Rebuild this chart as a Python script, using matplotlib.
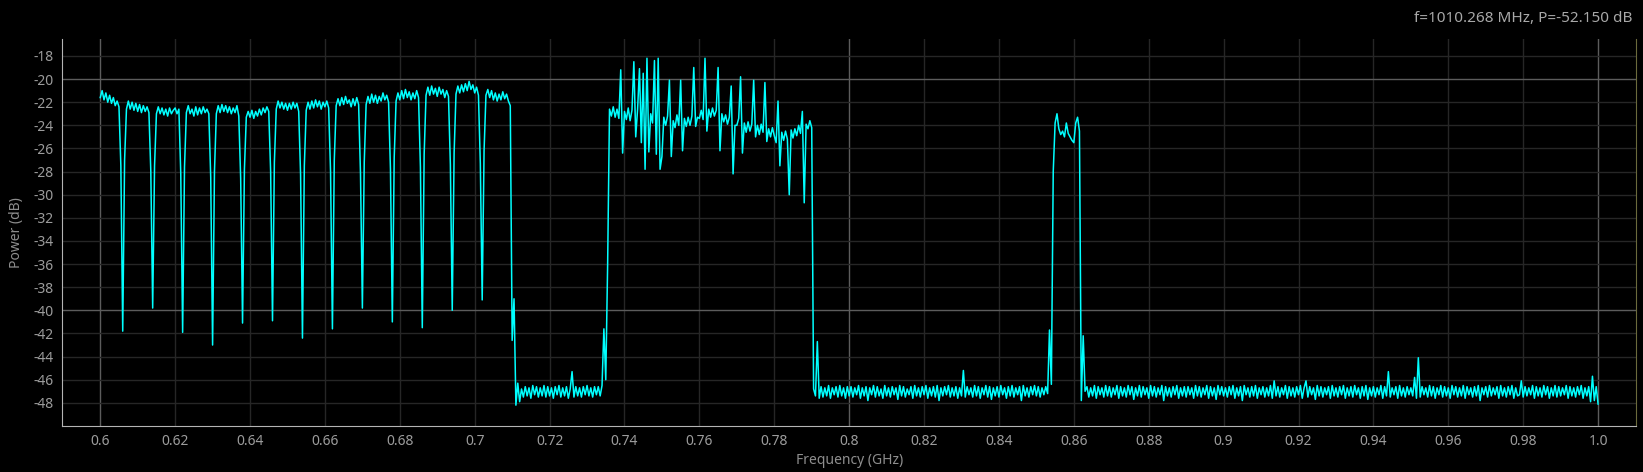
import numpy as np
import matplotlib
matplotlib.use('Agg')
import matplotlib.pyplot as plt

# spectrum trace, sampled every 0.5 MHz starting at 0.600 GHz (one row = 10 MHz)
freq_start_ghz = 0.600
freq_step_ghz = 0.0005
power_db = [
    -21.6, -21.0, -21.8, -21.2, -22.0, -21.4, -22.1, -21.6, -22.3, -21.9, -22.4, -27.5, -41.8, -27.0, -22.6, -21.9, -22.6, -22.0, -22.7, -22.1,
    -22.8, -22.2, -22.9, -22.3, -22.8, -22.4, -22.9, -28.0, -39.8, -27.5, -23.0, -22.4, -23.0, -22.5, -23.1, -22.6, -23.2, -22.5, -23.0, -22.7,
    -22.5, -23.0, -22.6, -28.2, -41.9, -27.6, -22.9, -22.3, -23.0, -22.6, -23.2, -22.4, -23.1, -22.5, -23.0, -22.4, -22.9, -22.6, -23.0, -28.5,
    -43.0, -28.0, -23.0, -22.3, -22.9, -22.2, -22.8, -22.3, -22.9, -22.4, -23.0, -22.5, -22.9, -22.3, -23.2, -28.6, -41.1, -27.8, -23.3, -22.8,
    -23.3, -22.7, -23.4, -22.8, -23.2, -22.6, -23.1, -22.5, -22.9, -22.4, -22.8, -28.0, -40.9, -27.2, -22.6, -21.9, -22.5, -22.0, -22.6, -22.1,
    -22.7, -22.1, -22.6, -22.0, -22.5, -22.1, -22.8, -28.3, -42.4, -27.5, -22.7, -22.0, -22.6, -21.9, -22.5, -21.8, -22.4, -21.9, -22.6, -22.0,
    -22.4, -21.9, -22.5, -28.0, -41.6, -27.0, -22.3, -21.7, -22.3, -21.6, -22.2, -21.5, -22.1, -21.8, -22.4, -21.7, -22.3, -21.6, -22.2, -28.2,
    -39.8, -27.2, -22.2, -21.5, -22.1, -21.3, -22.0, -21.4, -22.1, -21.5, -21.9, -21.2, -21.8, -21.4, -22.0, -27.8, -41.0, -26.8, -21.9, -21.2,
    -21.8, -21.0, -21.7, -20.9, -21.6, -21.1, -21.8, -21.2, -21.7, -21.0, -21.6, -27.6, -41.5, -26.5, -21.4, -20.7, -21.4, -20.6, -21.3, -20.8,
    -21.5, -20.7, -21.3, -20.9, -21.6, -21.0, -21.5, -27.4, -40.0, -26.4, -21.3, -20.6, -21.2, -20.5, -21.1, -20.4, -21.0, -20.2, -20.9, -20.5,
    -21.2, -20.7, -21.4, -27.3, -39.1, -26.2, -21.4, -20.9, -21.6, -21.0, -21.8, -21.2, -21.9, -21.3, -21.8, -21.1, -21.7, -21.3, -21.9, -22.3,
    -42.6, -39.0, -48.2, -46.3, -47.9, -46.8, -47.5, -46.6, -47.4, -46.7, -47.6, -46.5, -47.3, -46.6, -47.5, -46.7, -47.4, -46.5, -47.5, -46.6,
    -47.4, -46.7, -47.6, -46.6, -47.3, -46.5, -47.5, -46.7, -47.4, -46.6, -47.6, -46.8, -45.3, -47.5, -46.6, -47.4, -46.7, -47.5, -46.6, -47.3,
    -46.5, -47.4, -46.7, -47.5, -46.6, -47.3, -46.6, -47.4, -46.5, -41.6, -46.0, -36.0, -22.6, -23.2, -22.4, -23.3, -22.6, -23.4, -19.2, -26.4,
    -22.8, -23.5, -22.5, -23.6, -22.7, -18.5, -25.0, -22.6, -19.1, -25.5, -19.5, -27.8, -18.2, -26.3, -23.0, -23.8, -18.4, -26.5, -18.2, -27.8,
    -26.7, -23.3, -24.0, -23.2, -20.1, -26.7, -23.6, -24.2, -23.1, -24.0, -20.1, -26.2, -23.4, -24.1, -23.3, -24.0, -23.2, -19.0, -24.1, -23.3,
    -23.4, -22.7, -23.5, -18.2, -24.5, -22.6, -23.3, -22.5, -23.2, -22.7, -19.0, -26.2, -23.0, -23.7, -23.1, -23.9, -23.3, -20.6, -28.2, -24.0,
    -24.0, -23.4, -19.8, -26.4, -23.8, -24.6, -23.7, -24.5, -23.9, -20.1, -25.0, -24.0, -24.8, -23.9, -24.6, -20.3, -25.4, -24.3, -25.0, -24.2,
    -24.9, -25.5, -21.9, -27.5, -24.6, -25.3, -24.5, -25.2, -30.0, -24.4, -25.1, -24.3, -24.9, -24.0, -24.7, -22.8, -30.7, -23.9, -24.3, -23.6,
    -24.2, -46.8, -47.4, -42.7, -47.6, -46.6, -47.5, -46.7, -47.4, -46.5, -47.6, -46.7, -47.3, -46.6, -47.5, -46.5, -47.4, -46.7, -47.6, -46.6,
    -47.4, -46.6, -47.5, -46.7, -47.3, -46.5, -47.6, -46.7, -47.4, -46.6, -47.8, -46.7, -47.3, -46.5, -47.5, -46.6, -47.4, -46.8, -47.6, -46.5,
    -47.4, -46.7, -47.5, -46.6, -47.3, -46.7, -47.7, -46.5, -47.4, -46.6, -47.5, -46.8, -47.3, -46.6, -47.6, -46.5, -47.4, -46.7, -47.5, -46.6,
    -47.3, -46.5, -47.6, -46.7, -47.4, -46.6, -47.5, -46.5, -47.8, -46.7, -47.4, -46.6, -47.3, -46.5, -47.5, -46.7, -47.4, -46.6, -47.6, -46.7,
    -47.4, -45.2, -47.5, -46.6, -47.3, -46.7, -47.5, -46.5, -47.4, -46.6, -47.6, -46.7, -47.3, -46.5, -47.5, -46.6, -47.7, -46.7, -47.4, -46.6,
    -47.5, -46.5, -47.3, -46.7, -47.6, -46.6, -47.4, -46.5, -47.5, -46.7, -47.3, -46.6, -47.8, -46.5, -47.4, -46.7, -47.5, -46.6, -47.3, -46.5,
    -47.4, -46.6, -47.5, -46.7, -47.3, -46.6, -47.2, -41.7, -46.4, -28.0, -23.8, -23.0, -24.3, -24.8, -24.5, -25.0, -23.8, -24.7, -25.0, -25.3,
    -25.5, -23.8, -23.3, -24.5, -47.8, -42.2, -47.0, -46.6, -47.5, -46.7, -47.4, -46.5, -47.6, -46.6, -47.3, -46.7, -47.5, -46.5, -47.4, -46.6,
    -47.5, -46.7, -47.3, -46.5, -47.6, -46.6, -47.4, -46.7, -47.5, -46.5, -47.3, -46.6, -47.7, -46.7, -47.4, -46.5, -47.5, -46.6, -47.3, -46.7,
    -47.6, -46.5, -47.4, -46.6, -47.5, -46.7, -47.3, -46.5, -47.8, -46.6, -47.4, -46.7, -47.5, -46.6, -47.3, -46.5, -47.6, -46.7, -47.4, -46.6,
    -47.5, -46.6, -47.3, -46.7, -47.6, -46.5, -47.4, -46.6, -47.5, -46.7, -47.3, -46.5, -47.6, -46.6, -47.4, -46.7, -47.7, -46.5, -47.3, -46.6,
    -47.4, -46.7, -47.5, -46.6, -47.3, -46.5, -47.6, -46.7, -47.4, -46.6, -47.8, -46.5, -47.3, -46.7, -47.5, -46.6, -47.4, -46.5, -47.6, -46.7,
    -47.3, -46.6, -47.5, -46.7, -47.4, -46.5, -47.6, -46.1, -47.4, -46.6, -47.5, -46.7, -47.3, -46.5, -47.6, -46.6, -47.4, -46.7, -47.5, -46.6,
    -47.3, -46.5, -47.6, -46.7, -46.1, -47.5, -46.6, -47.3, -46.7, -47.7, -46.5, -47.4, -46.6, -47.5, -46.7, -47.3, -46.6, -47.6, -46.5, -47.4,
    -46.7, -47.5, -46.6, -47.3, -46.5, -47.6, -46.7, -47.4, -46.6, -47.5, -46.5, -47.3, -46.7, -47.6, -46.6, -47.4, -46.5, -47.7, -46.7, -47.4,
    -46.6, -47.5, -46.7, -47.3, -46.5, -47.6, -46.6, -47.4, -45.3, -47.5, -46.7, -47.3, -46.6, -47.6, -46.5, -47.4, -46.7, -47.5, -46.6, -47.3,
    -46.7, -47.4, -45.8, -47.6, -44.1, -47.5, -46.6, -47.3, -46.7, -47.5, -46.5, -47.4, -46.6, -47.6, -46.7, -47.3, -46.5, -47.5, -46.6, -47.4,
    -46.7, -47.6, -46.5, -47.3, -46.6, -47.5, -46.7, -47.4, -46.5, -47.6, -46.6, -47.3, -46.7, -47.5, -46.6, -47.4, -46.5, -47.8, -46.7, -47.3,
    -46.6, -47.5, -46.5, -47.4, -46.7, -47.3, -46.6, -47.6, -46.5, -47.4, -46.7, -47.5, -46.6, -47.3, -46.5, -47.6, -46.7, -47.4, -47.3, -46.1,
    -47.5, -46.6, -47.4, -46.7, -47.3, -46.5, -47.6, -46.6, -47.4, -46.7, -47.5, -46.5, -47.3, -46.6, -47.6, -46.7, -47.4, -46.5, -47.5, -46.6,
    -47.4, -46.7, -47.3, -46.5, -47.6, -46.6, -47.4, -46.7, -47.5, -46.6, -47.3, -46.5, -47.6, -46.7, -47.4, -46.6, -47.9, -45.7, -47.8, -46.6,
    -48.1,
]

x_major = [0.6, 0.8, 1.0]
x_major_labels = ['0.6', '0.8', '1.0']
x_minor = [0.62, 0.64, 0.66, 0.68, 0.7, 0.72, 0.74, 0.76, 0.78,
           0.82, 0.84, 0.86, 0.88, 0.9, 0.92, 0.94, 0.96, 0.98]
x_minor_labels = ['0.62', '0.64', '0.66', '0.68', '0.7', '0.72', '0.74', '0.76', '0.78',
                  '0.82', '0.84', '0.86', '0.88', '0.9', '0.92', '0.94', '0.96', '0.98']
y_major = [-20, -40]
y_major_labels = ['-20', '-40']
y_minor = [-18, -22, -24, -26, -28, -30, -32, -34, -36, -38, -42, -44, -46, -48]
y_minor_labels = ['-18', '-22', '-24', '-26', '-28', '-30', '-32', '-34', '-36', '-38',
                  '-42', '-44', '-46', '-48']

readout = 'f=1010.268 MHz, P=-52.150 dB'

plt.rcParams['font.family'] = ['Noto Sans', 'DejaVu Sans']

freqs = freq_start_ghz + freq_step_ghz * np.arange(len(power_db))

fig = plt.figure(figsize=(16.43, 4.72), dpi=100, facecolor='black')
ax = fig.add_axes([0.038, 0.0975, 0.9579, 0.82])
ax.set_facecolor('black')

ax.plot(freqs, power_db, color='#00ffff', linewidth=1.1)

ax.set_xlim(0.5899, 1.0102)
ax.set_ylim(-50.0, -16.53)

ax.set_xticks(x_major, labels=x_major_labels)
ax.set_xticks(x_minor, labels=x_minor_labels, minor=True)
ax.set_yticks(y_major, labels=y_major_labels)
ax.set_yticks(y_minor, labels=y_minor_labels, minor=True)

ax.grid(which='major', color='#5c5c5c', linewidth=1.0)
ax.grid(which='minor', color='#262626', linewidth=1.0)
ax.set_axisbelow(True)

ax.tick_params(which='both', length=0, pad=6, colors='#9c9c9c', labelsize=10)

ax.spines['top'].set_visible(False)
ax.spines['left'].set_color('#b4b4b4')
ax.spines['bottom'].set_color('#b4b4b4')
ax.spines['right'].set_color('#6b6a3c')

ax.set_xlabel('Frequency (GHz)', color='#8e8e8e', fontsize=10, labelpad=3)
ax.set_ylabel('Power (dB)', color='#8e8e8e', fontsize=10, labelpad=7)

fig.text(0.9939, 0.96, readout, ha='right', va='center', color='#a8a8a8', fontsize=11)

fig.savefig('out.png', dpi=100, facecolor='black')
